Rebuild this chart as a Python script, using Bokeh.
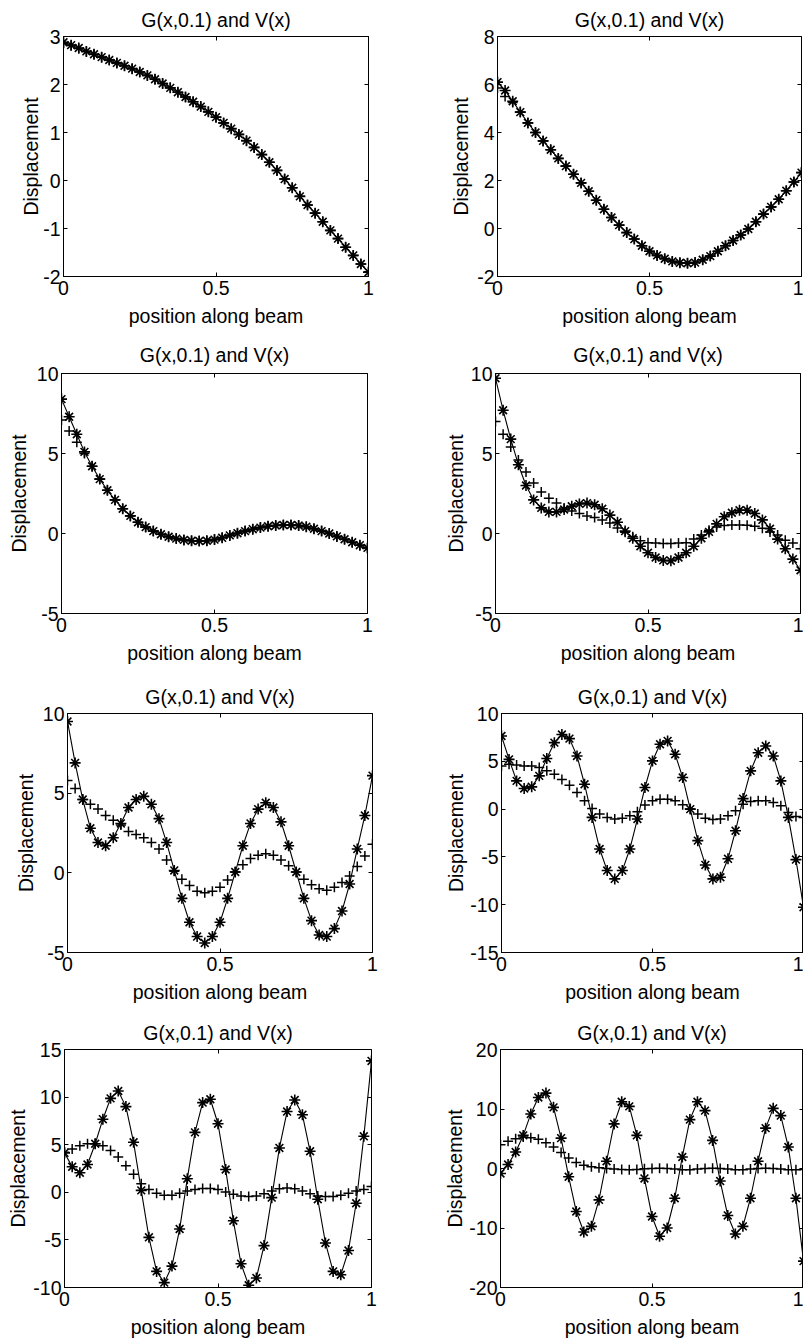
from bokeh.plotting import figure
from bokeh.models import Range1d, FixedTicker, LinearAxis
from bokeh.layouts import column, row
from bokeh.embed import file_html
from bokeh.resources import INLINE

# ---------------- data ----------------
x_pos = [0.0, 0.025, 0.05, 0.075, 0.1, 0.125, 0.15, 0.175, 0.2, 0.225,
         0.25, 0.275, 0.3, 0.325, 0.35, 0.375, 0.4, 0.425, 0.45, 0.475,
         0.5, 0.525, 0.55, 0.575, 0.6, 0.625, 0.65, 0.675, 0.7, 0.725,
         0.75, 0.775, 0.8, 0.825, 0.85, 0.875, 0.9, 0.925, 0.95, 0.975, 1.0]

x_ticks = [0, 0.5, 1]
x_tick_labels = ["0", "0.5", "1"]

g1 = [2.88, 2.82, 2.76, 2.69, 2.63, 2.57, 2.51, 2.45, 2.39, 2.33, 2.26, 2.19, 2.11, 2.02,
      1.93, 1.84, 1.74, 1.64, 1.54, 1.43, 1.32, 1.20, 1.08, 0.96, 0.83, 0.69, 0.54, 0.38,
      0.21, 0.03, -0.15, -0.33, -0.51, -0.68, -0.86, -1.04, -1.21, -1.39, -1.56, -1.74, -1.91]
v1 = [2.86, 2.81, 2.75, 2.69, 2.63, 2.57, 2.51, 2.45, 2.39, 2.33, 2.26, 2.19, 2.11, 2.02,
      1.93, 1.84, 1.74, 1.64, 1.54, 1.43, 1.32, 1.20, 1.08, 0.96, 0.83, 0.69, 0.54, 0.38,
      0.21, 0.03, -0.15, -0.33, -0.51, -0.68, -0.86, -1.04, -1.21, -1.39, -1.56, -1.74, -1.90]

g2 = [6.1, 5.75, 5.3, 4.85, 4.4, 4.0, 3.65, 3.28, 2.92, 2.6, 2.26, 1.9, 1.55, 1.18, 0.8,
      0.46, 0.14, -0.17, -0.44, -0.72, -0.95, -1.12, -1.26, -1.37, -1.43, -1.45, -1.42,
      -1.3, -1.15, -0.95, -0.72, -0.5, -0.27, -0.02, 0.28, 0.6, 0.9, 1.22, 1.57, 1.94, 2.33]
v2 = [5.85, 5.5, 5.25, 4.85, 4.4, 4.0, 3.65, 3.28, 2.92, 2.6, 2.26, 1.9, 1.55, 1.18, 0.8,
      0.46, 0.14, -0.17, -0.44, -0.72, -0.95, -1.12, -1.26, -1.37, -1.43, -1.45, -1.42,
      -1.3, -1.15, -0.95, -0.72, -0.5, -0.27, -0.02, 0.28, 0.6, 0.9, 1.22, 1.57, 1.94, 2.33]

g3 = [8.4, 7.3, 6.2, 5.1, 4.2, 3.4, 2.7, 2.1, 1.55, 1.1, 0.7, 0.4, 0.15, -0.05, -0.2,
      -0.32, -0.4, -0.45, -0.47, -0.45, -0.38, -0.27, -0.12, 0.02, 0.15, 0.27, 0.37, 0.45,
      0.5, 0.53, 0.53, 0.5, 0.42, 0.3, 0.15, 0.0, -0.18, -0.36, -0.55, -0.73, -0.9]
v3 = [7.1, 6.4, 5.7, 5.0, 4.2, 3.4, 2.7, 2.1, 1.55, 1.1, 0.7, 0.4, 0.15, -0.05, -0.2,
      -0.32, -0.4, -0.45, -0.47, -0.45, -0.38, -0.27, -0.12, 0.02, 0.15, 0.27, 0.37, 0.45,
      0.5, 0.53, 0.53, 0.5, 0.42, 0.3, 0.15, 0.0, -0.18, -0.36, -0.55, -0.73, -0.9]

g4 = [9.7, 7.7, 5.9, 4.3, 3.0, 2.1, 1.6, 1.35, 1.35, 1.5, 1.7, 1.85, 1.9, 1.8, 1.55, 1.15,
      0.7, 0.15, -0.3, -0.8, -1.2, -1.5, -1.68, -1.7, -1.5, -1.2, -0.8, -0.3, 0.1, 0.6,
      1.05, 1.3, 1.45, 1.45, 1.25, 0.85, 0.3, -0.35, -0.95, -1.6, -2.3]
v4 = [7.0, 6.2, 5.4, 4.6, 3.85, 3.15, 2.6, 2.2, 1.9, 1.6, 1.4, 1.25, 1.1, 1.0, 0.85, 0.65,
      0.35, 0.08, -0.2, -0.45, -0.58, -0.6, -0.62, -0.62, -0.6, -0.58, -0.35, -0.1, 0.2,
      0.4, 0.5, 0.53, 0.53, 0.52, 0.45, 0.33, 0.1, -0.1, -0.42, -0.6, -0.95]

g5 = [9.5, 6.9, 4.6, 2.8, 1.9, 1.7, 2.2, 3.1, 4.1, 4.6, 4.8, 4.3, 3.4, 1.9, 0.15, -1.6,
      -3.1, -4.0, -4.4, -4.0, -3.1, -1.6, 0.05, 1.7, 3.1, 4.0, 4.4, 4.1, 3.2, 1.7, 0.05,
      -1.6, -3.0, -3.9, -4.0, -3.5, -2.4, -0.7, 1.5, 3.6, 6.1]
v5 = [5.8, 5.3, 4.6, 4.3, 4.0, 3.6, 3.3, 3.0, 2.6, 2.4, 2.2, 1.9, 1.5, 0.8, 0.1, -0.4,
      -0.8, -1.15, -1.25, -1.15, -0.9, -0.45, 0.05, 0.5, 0.9, 1.1, 1.2, 1.1, 0.8, 0.45,
      0.05, -0.4, -0.75, -1.0, -1.1, -0.9, -0.6, -0.2, 0.4, 1.05, 1.8]

g6 = [7.65, 5.2, 2.95, 2.15, 2.33, 3.48, 5.3, 6.95, 7.8, 7.37, 5.56, 2.6, -0.87, -4.17,
      -6.43, -7.3, -6.43, -4.17, -1.04, 2.26, 5.04, 6.78, 7.13, 5.74, 3.3, 0.0, -3.3,
      -5.84, -7.3, -7.13, -5.2, -2.26, 1.1, 4.0, 5.9, 6.6, 5.56, 2.95, -0.87, -5.28, -10.26]
v6 = [4.5, 4.7, 4.6, 4.5, 4.5, 4.35, 4.0, 3.65, 3.1, 2.5, 1.74, 0.87, 0.07, -0.52, -0.87,
      -1.04, -0.97, -0.7, -0.28, 0.42, 0.87, 1.04, 1.04, 0.87, 0.45, 0.0, -0.52, -0.97,
      -1.1, -1.04, -0.7, -0.17, 0.52, 0.8, 0.87, 0.87, 0.7, 0.35, -0.35, -0.77, -0.87]

g7 = [4.14, 2.68, 2.05, 2.92, 5.1, 7.68, 9.87, 10.64, 9.0, 5.25, 0.2, -4.73, -8.31, -9.49,
      -7.75, -3.86, 1.43, 6.29, 9.42, 9.77, 7.2, 2.4, -2.99, -7.51, -9.77, -9.0, -5.6,
      -0.56, 4.66, 8.48, 9.7, 8.14, 4.31, -0.73, -5.32, -8.31, -8.66, -6.12, -1.15, 5.88, 13.8]
v7 = [4.2, 4.55, 4.9, 5.1, 5.1, 4.9, 4.4, 3.7, 2.8, 1.9, 0.9, 0.3, -0.1, -0.3, -0.3, -0.1,
      0.14, 0.3, 0.4, 0.4, 0.3, 0.03, -0.2, -0.38, -0.45, -0.38, -0.14, 0.14, 0.38, 0.45,
      0.38, 0.14, -0.14, -0.38, -0.45, -0.45, -0.3, -0.1, 0.14, 0.3, 0.6]

g8 = [-0.83, 0.67, 2.78, 5.56, 9.17, 11.94, 12.67, 10.28, 5.11, -1.39, -7.22, -10.67,
      -9.72, -5.28, 1.22, 7.5, 11.22, 10.44, 5.56, -1.67, -8.06, -11.39, -10.0, -5.0, 1.94,
      8.22, 11.22, 9.72, 4.72, -2.11, -7.89, -11.0, -9.72, -5.0, 1.22, 6.78, 10.11, 8.89,
      3.61, -5.0, -15.56]
v8 = [4.0, 4.56, 5.0, 5.28, 5.17, 4.9, 4.33, 3.6, 2.67, 1.78, 1.0, 0.56, 0.28, 0.11, 0.0,
      -0.1, -0.17, -0.2, -0.15, -0.05, 0.0, 0.05, 0.0, -0.1, -0.2, -0.2, -0.1, 0.0, 0.05,
      0.0, -0.1, -0.2, -0.2, -0.1, 0.0, 0.05, 0.0, -0.1, -0.2, -0.2, -0.15]

y_ranges = [(-2, 3), (-2, 8), (-5, 10), (-5, 10), (-5, 10), (-15, 10), (-10, 15), (-20, 20)]
y_ticks = [[-2, -1, 0, 1, 2, 3], [-2, 0, 2, 4, 6, 8], [-5, 0, 5, 10], [-5, 0, 5, 10],
           [-5, 0, 5, 10], [-15, -10, -5, 0, 5, 10], [-10, -5, 0, 5, 10, 15],
           [-20, -10, 0, 10, 20]]
y_tick_labels = [["-2", "-1", "0", "1", "2", "3"], ["-2", "0", "2", "4", "6", "8"],
                 ["-5", "0", "5", "10"], ["-5", "0", "5", "10"], ["-5", "0", "5", "10"],
                 ["-15", "-10", "-5", "0", "5", "10"], ["-10", "-5", "0", "5", "10", "15"],
                 ["-20", "-10", "0", "10", "20"]]

title_text = "G(x,0.1) and V(x)"
x_label = "position along beam"
y_label = "Displacement"

FONT = "Liberation Sans"
FS = "19.5px"


def make_fig(k, w, h, bl, br, bt, bb, t_stand, ylab_stand, xlab_stand):
    g, v = series[k]
    yr, yt, ytl = y_ranges[k], y_ticks[k], y_tick_labels[k]
    p = figure(width=w, height=h, x_range=Range1d(0, 1), y_range=Range1d(yr[0], yr[1]),
               output_backend="svg", toolbar_location=None,
               min_border_left=bl, min_border_right=br,
               min_border_top=bt, min_border_bottom=bb,
               title=title_text)
    p.title.align = "center"
    p.title.text_font = FONT
    p.title.text_font_size = FS
    p.title.text_font_style = "normal"
    p.title.text_color = "black"
    p.title.standoff = t_stand
    p.xgrid.grid_line_color = None
    p.ygrid.grid_line_color = None
    p.outline_line_color = "black"
    p.outline_line_width = 1
    p.background_fill_color = "white"
    p.border_fill_color = "white"

    xa = p.below[0]
    ya = p.left[0]
    xa.ticker = FixedTicker(ticks=x_ticks)
    xa.major_label_overrides = {t: s for t, s in zip(x_ticks, x_tick_labels)}
    ya.ticker = FixedTicker(ticks=yt)
    ya.major_label_overrides = {t: s for t, s in zip(yt, ytl)}
    for ax in (xa, ya):
        ax.major_tick_in = 4
        ax.major_tick_out = 0
        ax.minor_tick_line_color = None
        ax.axis_line_color = "black"
        ax.major_tick_line_color = "black"
        ax.major_label_text_font = FONT
        ax.major_label_text_font_size = FS
        ax.major_label_text_color = "black"
        ax.major_label_standoff = 3
        ax.axis_label_text_font = FONT
        ax.axis_label_text_font_size = FS
        ax.axis_label_text_font_style = "normal"
        ax.axis_label_text_color = "black"
    xa.major_label_standoff = 4
    xa.axis_label = x_label
    ya.axis_label = y_label
    xa.axis_label_standoff = xlab_stand
    ya.axis_label_standoff = ylab_stand

    # mirrored tick marks on the right and top edges (no labels)
    ra = LinearAxis(ticker=FixedTicker(ticks=yt), major_tick_in=4, major_tick_out=0,
                    minor_tick_line_color=None, major_label_text_font_size="0px",
                    major_label_text_color=None, major_label_standoff=0,
                    axis_line_color=None)
    ta = LinearAxis(ticker=FixedTicker(ticks=x_ticks), major_tick_in=4, major_tick_out=0,
                    minor_tick_line_color=None, major_label_text_font_size="0px",
                    major_label_text_color=None, major_label_standoff=0,
                    axis_line_color=None)
    p.add_layout(ra, "right")
    p.add_layout(ta, "above")

    p.line(x_pos, g, line_color="black", line_width=1.1)
    p.scatter(x_pos, g, marker="asterisk", size=11, line_color="black", line_width=1.6)
    p.scatter(x_pos, v, marker="cross", size=10, line_color="black", line_width=1.5)
    return p


series = [(g1, v1), (g2, v2), (g3, v3), (g4, v4), (g5, v5), (g6, v6), (g7, v7), (g8, v8)]

LW, RW = 440, 363
# row 1: figure y 0..330, frame 36..276
p1 = make_fig(0, LW, 330, 63, 72, 36, 54, 12, -2, 7)
p2 = make_fig(1, RW, 330, 57, 2, 36, 54, 12, 2, 7)
# row 2: figure y 330..670, frame 373..613
p3 = make_fig(2, LW, 340, 61, 73, 43, 57, 16, 4, 7)
p4 = make_fig(3, RW, 340, 55, 3, 43, 57, 16, 1, 7)
# row 3: figure y 670..1005, frame 713..953
p5 = make_fig(4, LW, 335, 67, 68, 43, 52, 12, 3, 7)
p6 = make_fig(5, RW, 335, 61, 0, 43, 52, 12, 0, 7)
# row 4: figure y 1005..1340, frame 1049..1289
p7 = make_fig(6, LW, 335, 64, 69, 44, 51, 12, 1, 7)
p8 = make_fig(7, RW, 335, 60, 0, 44, 51, 12, 0, 7)

layout = column(row(p1, p2), row(p3, p4), row(p5, p6), row(p7, p8))

open("out.html", "w").write(file_html(layout, INLINE))
